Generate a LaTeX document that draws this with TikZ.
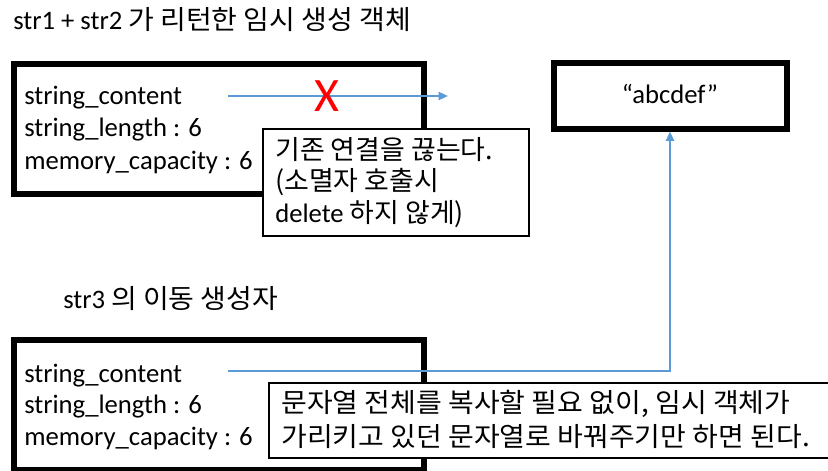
\documentclass[tikz,border=0pt]{standalone}
\usepackage{fontspec}
\setmainfont{Carlito}
\newfontfamily\kr[FakeStretch=1.05]{Noto Sans CJK KR}
\newfontfamily\krn[FakeStretch=1.01]{Noto Sans CJK KR}
\usetikzlibrary{fit,arrows.meta}
\definecolor{linkblue}{RGB}{91,155,213}
\begin{document}
\begin{tikzpicture}[x=0.75pt,y=-0.75pt,
  every node/.style={inner sep=0pt,font=\fontsize{20}{24}\selectfont},
  txt/.style={anchor=base west},
  objbox/.style={draw=black,line width=4.5pt,inner sep=0pt},
  callout/.style={draw=black,line width=0.9pt,fill=white,inner sep=0pt},
  link/.style={draw=linkblue,line width=1.6pt},
  linkarrow/.style={link,-{Triangle[length=7pt,width=6pt]}}]
\useasboundingbox (0,0) rectangle (828,471);
% titles
\node[txt] (title1) at (13,29) {str1 + str2 {\kr 가 리턴한 임시 생성 객체}};
\node[txt] (title2) at (63,308) {str3 {\kr 의 이동 생성자}};
% box 1
\node[objbox,fit={(13.5,63.5) (424,193.5)}] (b1) {};
\node[txt] (b1a) at (24,104) {string\_content};
\node[txt] (b1b) at (24,136.5) {string\_length : 6};
\node[txt] (b1c) at (24,169) {memory\_capacity : 6};
% box 2
\node[objbox,fit={(553.5,62.5) (786.5,128.5)}] (b2) {};
\node[anchor=base] (b2t) at (670,103) {“abcdef”};
% box 3
\node[objbox,fit={(13.5,339.5) (424,470)}] (b3) {};
\node[txt] (b3a) at (24,382) {string\_content};
\node[txt] (b3b) at (24,413.5) {string\_length : 6};
\node[txt] (b3c) at (24,445) {memory\_capacity : 6};
% connectors
\coordinate (a1s) at (228,96);
\coordinate (a1e) at (448,96);
\draw[linkarrow] (a1s) -- (a1e);
\node[text=red,font=\fontsize{36}{40}\selectfont] (cross) at (327,96) {X};
\coordinate (a2s) at (228,371);
\draw[linkarrow] (a2s) -| (b2.south);
% callouts
\node[callout,fit={(263,129) (529,236)}] (c1) {};
\node[txt] (c1a) at (275,159) {\krn 기존 연결을 끊는다.};
\node[txt] (c1b) at (275,190.5) {\krn (소멸자 호출시};
\node[txt] (c1c) at (275,222) {delete {\krn 하지 않게)}};
\node[callout,fit={(269,383) (834,458)}] (c2) {};
\node[txt] (c2a) at (281,412) {\kr 문자열 전체를 복사할 필요 없이, 임시 객체가};
\node[txt] (c2b) at (281,446) {\kr 가리키고 있던 문자열로 바꿔주기만 하면 된다.};
\end{tikzpicture}
\end{document}
